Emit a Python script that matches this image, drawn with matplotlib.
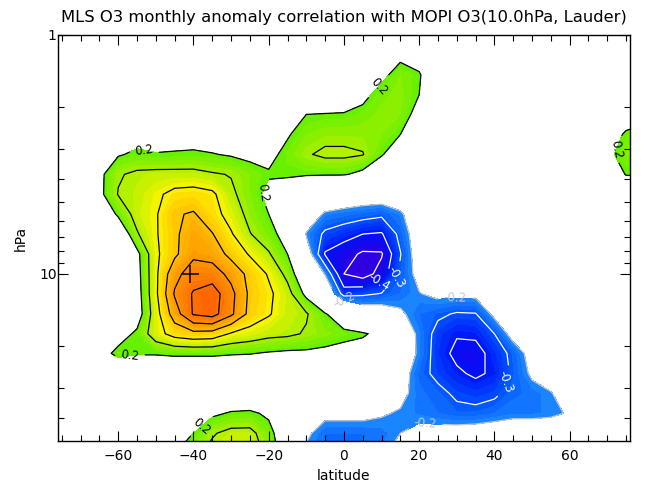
import matplotlib
matplotlib.use("Agg")
import matplotlib.pyplot as plt
import numpy as np
from matplotlib.colors import LinearSegmentedColormap
from matplotlib.ticker import FixedLocator, FixedFormatter, NullFormatter

plt.rcParams["font.family"] = ["DejaVu Sans"]

# grid: latitude (deg) x pressure (hPa)
lats = [-80, -75, -70, -65, -60, -55, -50, -45, -40, -35, -30, -25, -20, -15, -10, -5,
        0, 5, 10, 15, 20, 25, 30, 35, 40, 45, 50, 55, 60, 65, 70, 75, 80]
pressures = [1.00, 1.21, 1.47, 1.78, 2.15, 2.61, 3.16, 3.83, 4.64, 5.62, 6.81,
             8.25, 10.0, 12.1, 14.7, 17.8, 21.5, 26.1, 31.6, 38.3, 46.4, 56.2]

# correlation, one row per pressure level (top to bottom), one column per latitude
corr = [
    [0, 0, 0, 0, 0, 0, 0, 0, 0, 0, 0, 0, 0, 0, 0, 0, 0, 0, 0.05, 0.08, 0.08, 0, 0, 0, 0, 0, 0, 0, 0, 0, 0, 0, 0],
    [0, 0, 0, 0, 0, 0, 0, 0, 0, 0, 0, 0, 0, 0, 0, 0, 0, 0, 0.10, 0.17, 0.15, 0.05, 0, 0, 0, 0, 0, 0, 0, 0, 0, 0, 0],
    [0, 0, 0, 0, 0, 0, 0, 0, 0, 0, 0, 0, 0, 0, 0, 0, 0, 0.10, 0.17, 0.25, 0.21, 0.10, 0, 0, 0, 0, 0, 0, 0, 0, 0, 0, 0],
    [0, 0, 0, 0, 0, 0, 0, 0, 0, 0, 0, 0, 0, 0, 0, 0, 0.10, 0.17, 0.24, 0.26, 0.20, 0.08, 0, 0, 0, 0, 0, 0, 0, 0, 0, 0.05, 0.08],
    [0, 0, 0, 0.05, 0.08, 0.08, 0.08, 0.08, 0.08, 0.08, 0.08, 0.08, 0.08, 0.12, 0.20, 0.21, 0.21, 0.23, 0.26, 0.25, 0.16, 0.05, 0, 0, 0, 0, 0, 0, 0, 0, 0.05, 0.12, 0.15],
    [0, 0, 0, 0.05, 0.13, 0.15, 0.15, 0.15, 0.15, 0.14, 0.13, 0.12, 0.12, 0.19, 0.25, 0.27, 0.27, 0.27, 0.25, 0.20, 0.12, 0.05, 0, 0, 0, 0, 0, 0, 0, 0, 0.12, 0.22, 0.25],
    [0, 0, 0.05, 0.12, 0.19, 0.22, 0.205, 0.21, 0.215, 0.205, 0.19, 0.17, 0.17, 0.23, 0.29, 0.32, 0.32, 0.305, 0.21, 0.12, 0.05, 0, 0, 0, 0, 0, 0, 0, 0, 0.05, 0.17, 0.25, 0.27],
    [0, 0, 0.08, 0.17, 0.29, 0.32, 0.33, 0.33, 0.33, 0.31, 0.295, 0.25, 0.21, 0.22, 0.21, 0.21, 0.21, 0.17, 0.10, 0.02, 0, 0, 0, 0, 0, 0, 0, 0, 0, 0.03, 0.12, 0.205, 0.21],
    [0, 0, 0.08, 0.17, 0.305, 0.33, 0.38, 0.43, 0.44, 0.42, 0.32, 0.25, 0.17, 0.10, 0.05, -0.05, -0.10, -0.12, -0.12, -0.10, -0.05, 0, 0, 0, 0, 0, 0, 0, 0, 0, 0.05, 0.10, 0.10],
    [0, 0, 0.03, 0.08, 0.22, 0.34, 0.39, 0.49, 0.51, 0.44, 0.36, 0.27, 0.20, 0.10, -0.10, -0.22, -0.24, -0.26, -0.28, -0.22, -0.10, -0.02, 0, 0, 0, 0, 0, 0, 0, 0, 0, 0, 0],
    [0, 0, 0, 0.05, 0.08, 0.29, 0.39, 0.48, 0.56, 0.505, 0.41, 0.305, 0.24, 0.15, -0.21, -0.32, -0.36, -0.40, -0.41, -0.27, -0.12, -0.03, 0, 0, 0, 0, 0, 0, 0, 0, 0, 0, 0],
    [0, 0, 0, 0.03, 0.07, 0.17, 0.38, 0.48, 0.58, 0.56, 0.47, 0.39, 0.31, 0.20, -0.12, -0.41, -0.46, -0.515, -0.51, -0.305, -0.13, -0.04, 0, 0, 0, 0, 0, 0, 0, 0, 0, 0, 0],
    [0, 0, 0, 0.02, 0.06, 0.16, 0.38, 0.57, 0.65, 0.65, 0.57, 0.47, 0.39, 0.27, 0.08, -0.21, -0.50, -0.55, -0.46, -0.28, -0.16, -0.08, -0.08, -0.08, -0.05, 0, 0, 0, 0, 0, 0, 0, 0],
    [0, 0, 0, 0.02, 0.05, 0.15, 0.38, 0.61, 0.71, 0.75, 0.63, 0.48, 0.42, 0.34, 0.17, -0.05, -0.35, -0.32, -0.295, -0.25, -0.205, -0.17, -0.17, -0.17, -0.10, -0.03, 0, 0, 0, 0, 0, 0, 0],
    [0, 0, 0, 0.02, 0.05, 0.14, 0.36, 0.55, 0.71, 0.74, 0.62, 0.47, 0.41, 0.34, 0.31, 0.21, 0.10, -0.10, -0.12, -0.18, -0.25, -0.28, -0.31, -0.305, -0.17, -0.10, -0.03, 0, 0, 0, 0, 0, 0],
    [0, 0, 0.03, 0.08, 0.15, 0.22, 0.36, 0.44, 0.47, 0.46, 0.39, 0.36, 0.33, 0.32, 0.29, 0.26, 0.23, 0.22, 0.15, -0.12, -0.22, -0.34, -0.39, -0.38, -0.30, -0.15, -0.08, -0.02, 0, 0, 0, 0, 0],
    [0, 0, 0.03, 0.15, 0.23, 0.21, 0.21, 0.22, 0.22, 0.22, 0.21, 0.205, 0.19, 0.18, 0.18, 0.17, 0.16, 0.12, 0.05, -0.10, -0.22, -0.35, -0.43, -0.44, -0.36, -0.27, -0.15, -0.05, 0, 0, 0, 0, 0],
    [0, 0, 0, 0.05, 0.08, 0.08, 0.08, 0.08, 0.08, 0.08, 0.08, 0.08, 0.08, 0.05, 0.05, 0.05, 0.05, 0.05, 0, -0.14, -0.26, -0.33, -0.38, -0.42, -0.38, -0.28, -0.18, -0.10, -0.03, 0, 0, 0, 0],
    [0, 0, 0, 0.03, 0.05, 0.05, 0.05, 0.05, 0.06, 0.08, 0.10, 0.08, 0.05, 0, 0, -0.05, -0.05, -0.05, -0.05, -0.17, -0.24, -0.27, -0.32, -0.34, -0.32, -0.26, -0.24, -0.21, -0.10, -0.03, 0, 0, 0],
    [0, 0, 0, 0, 0, 0, 0, 0.05, 0.12, 0.18, 0.21, 0.22, 0.18, 0.05, -0.10, -0.17, -0.17, -0.17, -0.19, -0.21, -0.23, -0.25, -0.27, -0.27, -0.25, -0.23, -0.23, -0.22, -0.19, -0.10, -0.03, 0, 0],
    [0, 0, 0, 0, 0, 0, 0.05, 0.10, 0.20, 0.29, 0.33, 0.33, 0.24, 0.10, -0.18, -0.25, -0.25, -0.25, -0.24, -0.20, -0.17, -0.16, -0.15, -0.14, -0.13, -0.12, -0.12, -0.12, -0.10, -0.05, 0, 0, 0],
    [0, 0, 0, 0, 0, 0.05, 0.10, 0.20, 0.27, 0.33, 0.36, 0.36, 0.27, 0.12, -0.22, -0.25, -0.25, -0.25, -0.22, -0.15, -0.10, -0.08, -0.08, -0.08, -0.08, -0.08, -0.08, -0.08, -0.05, 0, 0, 0, 0],
]

station_lat = -41.0
station_p = 10.0

title = "MLS O3 monthly anomaly correlation with MOPI O3(10.0hPa, Lauder)"

# contour levels and where the labels sit (lat, log10 p)
line_levels = [-0.5, -0.4, -0.3, -0.2, 0.2, 0.3, 0.4, 0.5, 0.6, 0.7]
label_spots = {
    0.2: [(-53.4, 0.50), (-21.5, 0.66), (-56.8, 1.36), (8.2, 0.20),
          (72.5, 0.48), (-38.2, 1.63)],
    -0.4: [(9.6, 1.04)],
    -0.3: [(14.3, 1.02), (44.6, 1.46)],
    -0.2: [(-0.5, 1.12), (29.5, 1.09), (21.5, 1.64)],
}

lat = np.array(lats)
logp = np.log10(pressures)
z = np.array(corr)

pos_cmap = LinearSegmentedColormap.from_list(
    "pos", ["#5ef000", "#a8f000", "#fcf400", "#ffc000", "#ff9400", "#ff7000", "#ff5500"]
)
neg_cmap = LinearSegmentedColormap.from_list(
    "neg", ["#3c00c8", "#2c00e4", "#0010f8", "#0050ff", "#1e8cff"]
)

fig = plt.figure(figsize=(6.52, 4.83), dpi=100)
ax = fig.add_axes([0.089, 0.087, 0.877, 0.8406])

pos_levels = np.linspace(0.2, 0.8, 25)
neg_levels = np.linspace(-0.6, -0.2, 17)
ax.contourf(lat, logp, z, levels=pos_levels, cmap=pos_cmap, vmin=0.2, vmax=0.8)
ax.contourf(lat, logp, z, levels=neg_levels, cmap=neg_cmap, vmin=-0.6, vmax=-0.2)

for lev in line_levels:
    if lev > 0:
        col = "k"
    elif lev == -0.2:
        col = "#c8c8c8"
    else:
        col = "white"
    cs = ax.contour(lat, logp, z, levels=[lev], colors=col, linewidths=0.9,
                    linestyles="solid")
    if lev in label_spots:
        ax.clabel(cs, fmt="%.1f", fontsize=8.5, inline=True, colors=col,
                  manual=label_spots[lev])

ax.plot(station_lat, np.log10(station_p), marker="+", ms=13, mew=1.1, color="k")

ax.set_xlim(-76, 76)
ax.set_ylim(np.log10(50), 0)
ax.xaxis.set_major_locator(FixedLocator([-60, -40, -20, 0, 20, 40, 60]))
ax.xaxis.set_minor_locator(FixedLocator(np.arange(-75, 80, 5)))
ax.yaxis.set_major_locator(FixedLocator([0, 1]))
ax.yaxis.set_major_formatter(FixedFormatter(["1", "10"]))
ax.yaxis.set_minor_locator(FixedLocator(np.log10([2, 3, 4, 5, 6, 7, 8, 9, 20, 30, 40])))
ax.yaxis.set_minor_formatter(NullFormatter())
ax.tick_params(which="both", direction="in", top=True, right=True, labelsize=10,
               width=0.8)
ax.tick_params(which="major", length=7)
ax.tick_params(which="minor", length=4)
ax.tick_params(axis="x", which="major", pad=6)
ax.tick_params(axis="y", which="major", pad=1)
for s in ax.spines.values():
    s.set_linewidth(1.0)

ax.set_xlabel("latitude", fontsize=10, labelpad=4)
ax.set_ylabel("hPa", fontsize=10, labelpad=8)
ax.set_title(title, fontsize=11.8, pad=9)

fig.savefig("out.png", dpi=100)
